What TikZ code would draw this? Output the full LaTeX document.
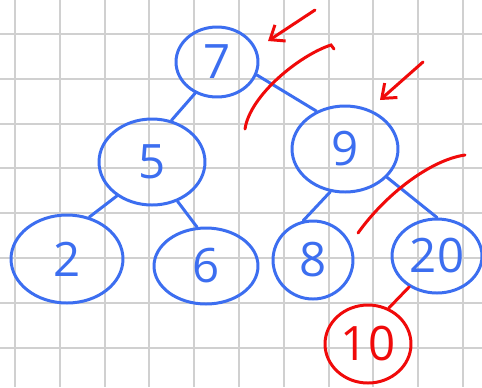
\documentclass[tikz,border=0pt]{standalone}
\usepackage{fontspec}
\setmainfont{Open Sans}
\usetikzlibrary{shapes.geometric,arrows.meta}
\definecolor{penblue}{RGB}{60,110,240}
\definecolor{penred}{RGB}{240,10,10}
\definecolor{gridgray}{RGB}{208,208,208}

\begin{document}
\begin{tikzpicture}[x=0.02cm,y=-0.02cm,
    key/.style={ellipse,draw=penblue,line width=1.7pt,text=penblue,inner sep=0pt,
      font=\fontsize{27}{29}\selectfont},
    newkey/.style={key,draw=penred,text=penred},
    link/.style={penblue,line width=1.7pt,line cap=round},
    redmark/.style={penred,line width=1.7pt,line cap=round}]
        % Paper and grid
        \useasboundingbox (0,0) rectangle (482,387);
        \fill[white] (0,0) rectangle (482,387);
        \foreach \i in {0,...,10}
            \draw[gridgray,line width=1.1pt] ({15+44.8*\i},0) -- ({15+44.8*\i},387);
        \foreach \j in {0,...,7}
            \draw[gridgray,line width=1.1pt] (0,{34+44.8*\j}) -- (482,{34+44.8*\j});

        % Keys of the tree
        \node[key,minimum width=1.64cm,minimum height=1.40cm] (n7) at (217,62) {7};
        \node[key,minimum width=2.12cm,minimum height=1.72cm] (n5) at (152,162) {5};
        \node[key,minimum width=2.12cm,minimum height=1.72cm] (n9) at (345,149) {9};
        \node[key,minimum width=2.24cm,minimum height=1.76cm] (n2) at (67,259) {2};
        \node[key,minimum width=2.08cm,minimum height=1.52cm] (n6) at (206,266) {6};
        \node[key,minimum width=1.60cm,minimum height=1.56cm] (n8) at (313,260) {8};
        \node[key,minimum width=1.80cm,minimum height=1.48cm] (n20) at (437,256) {20};
        \node[newkey,minimum width=1.72cm,minimum height=1.56cm] (n10) at (368,344) {10};

        % Links
        \draw[link] (n7.-125) -- (n5.65);
        \draw[link] (n7.-18) -- (n9.127);
        \draw[link] (n5.-136) -- (n2.62);
        \draw[link] (n5.-57) -- (n6.103);
        \draw[link] (n9.-109) -- (n8.104);
        \draw[link] (n9.-34) -- (n20.90);
        \draw[link,penred] (n20.-132) -- (n10.60);

        % Red marks
        \coordinate (tail1) at (315,10);
        \coordinate (tip1) at (268,41);
        \coordinate (tail2) at (423,62);
        \coordinate (tip2) at (380,100);
        \draw[redmark,-{Straight Barb[length=7pt,width=11pt]}] (tail1) -- (tip1);
        \draw[redmark,-{Straight Barb[length=7pt,width=11pt]}] (tail2) -- (tip2);
        \draw[redmark] (245,129) .. controls (250,95) and (300,55) .. (331,45) -- (334,49);
        \draw[redmark] (358,233) .. controls (385,195) and (430,160) .. (465,155);
    \end{tikzpicture}
\end{document}
